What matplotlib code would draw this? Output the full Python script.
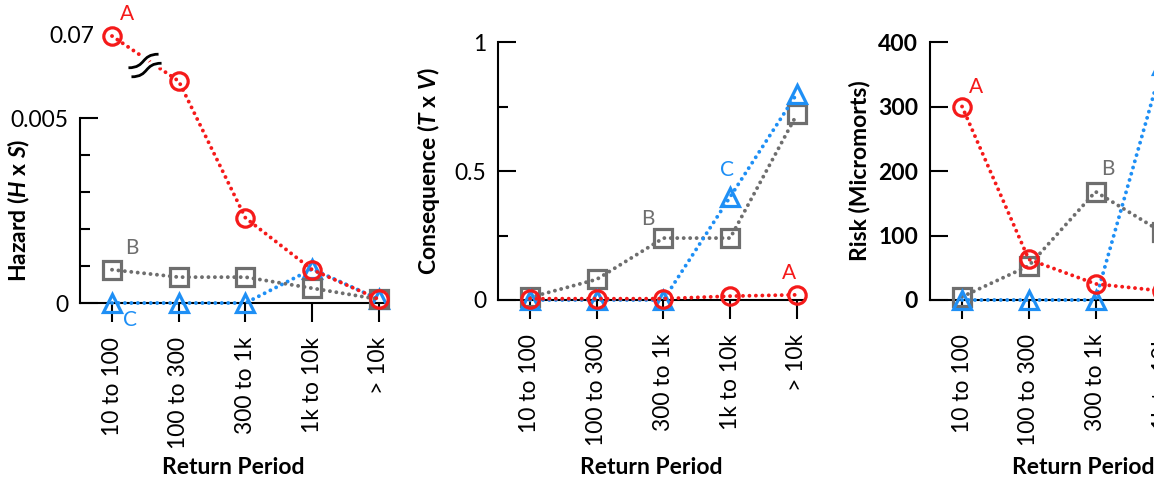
import numpy as np
import matplotlib
matplotlib.use("Agg")
import matplotlib.pyplot as plt
from matplotlib.ticker import FixedLocator
from matplotlib.path import Path

plt.rcParams["font.family"] = ["Lato", "DejaVu Sans"]
plt.rcParams["mathtext.fontset"] = "custom"
plt.rcParams["mathtext.it"] = "Lato:italic:bold"
plt.rcParams["mathtext.rm"] = "Lato:bold"

# Data
periods = ["10 to 100", "100 to 300", "300 to 1k", "1k to 10k", "> 10k"]

hazard_a = [0.07, 0.006, 0.0023, 0.0009, 0.0001]
hazard_b = [0.0009, 0.0007, 0.0007, 0.0004, 0.0001]
hazard_c = [0.0, 0.0, 0.0, 0.00092, 0.0001]

conseq_a = [0.005, 0.005, 0.005, 0.015, 0.02]
conseq_b = [0.01, 0.08, 0.24, 0.24, 0.72]
conseq_c = [0.0, 0.0, 0.0, 0.4, 0.8]

risk_a = [300, 63, 25, 14, 3]
risk_b = [5, 53, 168, 105, 72]
risk_c = [0, 0, 0, 365, 80]

RED = "#f51a1a"
GRAY = "#6e6e6e"
BLUE = "#1e8ff5"

styles = {
    "A": dict(color=RED, marker="o", ms=12.5),
    "B": dict(color=GRAY, marker="s", ms=12.5),
    "C": dict(color=BLUE, marker="^", ms=13.5),
}


def draw_series(ax, x, y, key, zorder):
    st = styles[key]
    ax.plot(x, y, linestyle=(0, (0.01, 1.65)), lw=2.8, color=st["color"],
            dash_capstyle="round", marker=st["marker"], ms=st["ms"],
            mfc="none", mec=st["color"], mew=2.3, clip_on=False,
            zorder=zorder)


def style_axes(ax):
    for s in ["top", "right"]:
        ax.spines[s].set_visible(False)
    for s in ["left", "bottom"]:
        ax.spines[s].set_linewidth(1.5)
    ax.set_xlim(-0.48, 4.12)
    ax.set_xticks(range(len(periods)))
    ax.set_xticklabels(periods, rotation=90, fontsize=16.5)
    ax.tick_params(axis="x", direction="out", length=13.5, width=1.5, pad=11)
    ax.tick_params(axis="y", which="major", direction="in", length=13,
                   width=1.5, pad=8.5, labelsize=16.5)
    ax.tick_params(axis="y", which="minor", direction="in", length=7,
                   width=1.5)
    ax.set_xlabel("Return Period", fontsize=16.5, fontweight="bold")


def letter(ax, text, x, y, color, dx, dy):
    ax.annotate(text, xy=(x, y), xytext=(dx, dy), textcoords="offset points",
                color=color, fontsize=15, ha="center", va="center",
                annotation_clip=False)


fig = plt.figure(figsize=(11.54, 4.79), dpi=100)
x = np.arange(len(periods))

# ---- Panel 1: hazard, broken axis ----
brk = 0.0065
k = (0.00722 - brk) / (0.07 - brk)


def fwd(v):
    v = np.asarray(v, dtype=float)
    return np.where(v <= brk, v, brk + (v - brk) * k)


def inv(v):
    v = np.asarray(v, dtype=float)
    return np.where(v <= brk, v, brk + (v - brk) / k)


ax1 = fig.add_axes([0.0693, 0.3674, 0.266, 0.5574])
ax1.set_yscale("function", functions=(fwd, inv))
ax1.set_ylim(0, 0.07)
style_axes(ax1)
ax1.spines["left"].set_bounds(0, 0.005)
ax1.yaxis.set_major_locator(FixedLocator([0, 0.005]))
ax1.yaxis.set_minor_locator(FixedLocator([0.001, 0.002, 0.003, 0.004]))
ax1.set_yticklabels(["0", "0.005"])
ax1.text(-0.27, 0.07, "0.07", fontsize=16.5, ha="right", va="center")
draw_series(ax1, x, hazard_c, "C", 3)
draw_series(ax1, x, hazard_b, "B", 4)
draw_series(ax1, x, hazard_a, "A", 5)

# axis-break glyph (two S curves) on the segment between the first two A points
s_curve = [(-1.0, -0.35), (0.2, -0.35), (-0.2, 0.55), (1.0, 0.55)]
codes = [Path.MOVETO, Path.CURVE4, Path.CURVE4, Path.CURVE4]
verts = s_curve + [(px + 0.2, py - 0.6) for px, py in s_curve]
break_path = Path(verts, codes * 2)
bx = 0.46
by = inv(fwd(hazard_a[0]) * 0.42 + fwd(hazard_a[1]) * 0.58)
ax1.plot([bx], [by], marker=break_path, ms=26, mfc="none", mec="white",
         mew=6, zorder=6, clip_on=False)
ax1.plot([bx], [by], marker=break_path, ms=26, mfc="none", mec="black",
         mew=2.0, zorder=7, clip_on=False)

letter(ax1, "A", 0, hazard_a[0], RED, 11, 16)
letter(ax1, "B", 0, hazard_b[0], GRAY, 14, 16)
letter(ax1, "C", 0, hazard_c[0], BLUE, 13, -12)
ax1.set_ylabel("Hazard ($\\mathit{H}$ x $\\mathit{S}$)", fontsize=16.5,
               fontweight="bold")
ax1.yaxis.set_label_coords(-0.155, 0.348)
ax1.xaxis.set_label_coords(0.5, -0.577)

# ---- Panel 2: consequence ----
ax2 = fig.add_axes([0.4315, 0.3737, 0.266, 0.5386])
ax2.set_ylim(0, 1)
style_axes(ax2)
ax2.yaxis.set_major_locator(FixedLocator([0, 0.5, 1]))
ax2.yaxis.set_minor_locator(FixedLocator([0.25, 0.75]))
ax2.set_yticklabels(["0", "0.5", "1"])
draw_series(ax2, x, conseq_b, "B", 3)
draw_series(ax2, x, conseq_c, "C", 4)
draw_series(ax2, x, conseq_a, "A", 5)
letter(ax2, "B", 2, conseq_b[2], GRAY, -11, 14)
letter(ax2, "C", 3, conseq_c[3], BLUE, -2, 19)
letter(ax2, "A", 4, conseq_a[4], RED, -6, 16)
ax2.set_ylabel("Consequence ($\\mathit{T}$ x $\\mathit{V}$)", fontsize=16.5,
               fontweight="bold")
ax2.yaxis.set_label_coords(-0.182, 0.5)
ax2.xaxis.set_label_coords(0.5, -0.609)

# ---- Panel 3: risk (runs off the right edge, as in the source) ----
ax3 = fig.add_axes([0.8059, 0.3737, 0.266, 0.5386])
ax3.set_ylim(0, 400)
style_axes(ax3)
ax3.yaxis.set_major_locator(FixedLocator([0, 100, 200, 300, 400]))
for lab in ax3.get_yticklabels():
    lab.set_fontweight("bold")
draw_series(ax3, x, risk_b, "B", 3)
draw_series(ax3, x, risk_c, "C", 4)
draw_series(ax3, x, risk_a, "A", 5)
letter(ax3, "A", 0, risk_a[0], RED, 10, 14)
letter(ax3, "B", 2, risk_b[2], GRAY, 9, 16)
ax3.set_ylabel("Risk (Micromorts)", fontsize=16.5, fontweight="bold")
ax3.yaxis.set_label_coords(-0.195, 0.5)
ax3.xaxis.set_label_coords(0.5, -0.609)

fig.savefig("out.png", dpi=100)
